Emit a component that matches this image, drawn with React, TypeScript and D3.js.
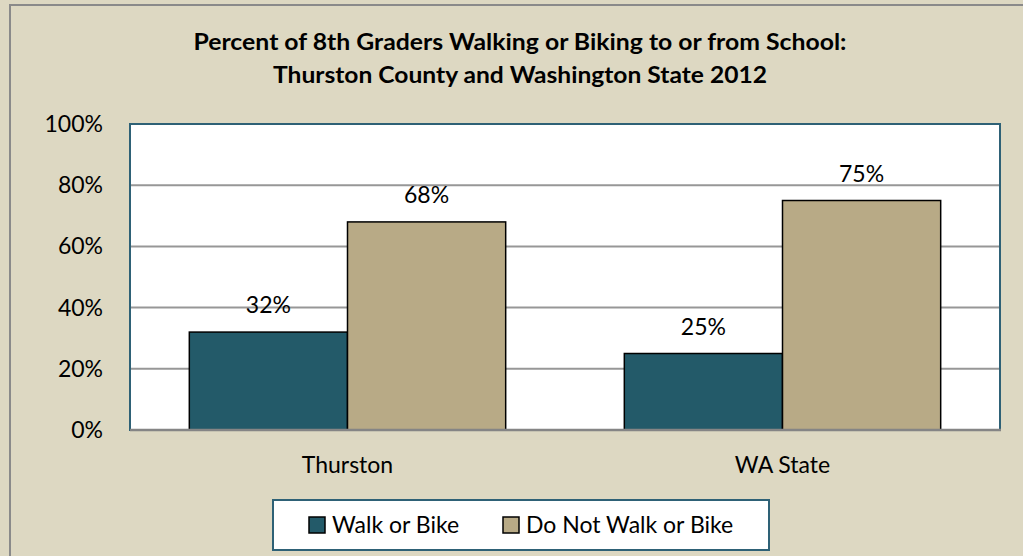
import React from "react";
import * as d3 from "d3";

const titleLines = [
  "Percent of 8th Graders Walking or Biking to or from School:",
  "Thurston County and Washington State 2012",
];
const categories = ["Thurston", "WA State"];
const seriesNames = ["Walk or Bike", "Do Not Walk or Bike"];
const walkOrBike = [32, 25];
const doNotWalkOrBike = [68, 75];
const yTicks = [0, 20, 40, 60, 80, 100];

const seriesColors = ["#235A69", "#B8AA86"];
const seriesValues = [walkOrBike, doNotWalkOrBike];

const W = 1023;
const H = 556;
const plot = { left: 130, right: 1000, top: 124, bottom: 430 };
const FONT = "Lato, 'Open Sans', sans-serif";

export default function App() {
  const x0 = d3
    .scaleBand<string>()
    .domain(categories)
    .range([plot.left, plot.right])
    .paddingInner(0.75 / 2.75)
    .paddingOuter(0.75 / 5.5);
  const x1 = d3
    .scaleBand<string>()
    .domain(seriesNames)
    .range([0, x0.bandwidth()])
    .padding(0);
  const y = d3.scaleLinear().domain([0, 100]).range([plot.bottom, plot.top]);
  const fmt = (v: number) => `${v}%`;
  const cx = (plot.left + plot.right) / 2;
  const titleCenter = 520;

  return (
    <svg
      width={W}
      height={H}
      style={{ position: "fixed", left: 0, top: 0, display: "block" }}
      fontFamily={FONT}
    >
      <rect x={0} y={0} width={W} height={H} fill="#DDD8C2" />
      {/* outer chart border (extends beyond image on right/bottom) */}
      <rect x={10} y={5} width={W + 20} height={H + 20} fill="none" stroke="#8A8A8A" strokeWidth={2} />

      {/* title */}
      {titleLines.map((t, i) => (
        <text
          key={t}
          x={titleCenter}
          y={50 + i * 33}
          textAnchor="middle"
          fontWeight="bold"
          fontSize={23}
          fill="#000"
          textLength={i === 0 ? 653 : 494}
          lengthAdjust="spacingAndGlyphs"
        >
          {t}
        </text>
      ))}

      {/* plot area */}
      <rect
        x={plot.left}
        y={plot.top}
        width={plot.right - plot.left}
        height={plot.bottom - plot.top}
        fill="#FFFFFF"
        stroke="#2E6176"
        strokeWidth={2}
      />

      {/* gridlines */}
      {yTicks
        .filter((t) => t > 0 && t < 100)
        .map((t) => (
          <line
            key={t}
            x1={plot.left + 1}
            x2={plot.right - 1}
            y1={y(t)}
            y2={y(t)}
            stroke="#979797"
            strokeWidth={2}
          />
        ))}

      {/* y tick labels */}
      {yTicks.map((t) => (
        <text
          key={t}
          x={103}
          y={y(t) + 8}
          textAnchor="end"
          fontSize={23}
          fill="#000"
        >
          {fmt(t)}
        </text>
      ))}

      {/* bars */}
      {categories.map((c, ci) => (
        <g key={c}>
          {seriesNames.map((s, si) => {
            const v = seriesValues[si][ci];
            const bx = (x0(c) as number) + (x1(s) as number);
            const bw = x1.bandwidth();
            return (
              <g key={s}>
                <rect
                  x={bx}
                  y={y(v)}
                  width={bw}
                  height={y(0) - y(v)}
                  fill={seriesColors[si]}
                  stroke="#000"
                  strokeWidth={1.5}
                />
                <text
                  x={bx + bw / 2}
                  y={y(v) - 19}
                  textAnchor="middle"
                  fontSize={23}
                  fill="#000"
                >
                  {fmt(v)}
                </text>
              </g>
            );
          })}
        </g>
      ))}

      {/* bottom axis line */}
      <line
        x1={plot.left}
        x2={plot.right + 1}
        y1={plot.bottom}
        y2={plot.bottom}
        stroke="#858585"
        strokeWidth={2.5}
      />

      {/* category labels */}
      {categories.map((c) => (
        <text
          key={c}
          x={(x0(c) as number) + x0.bandwidth() / 2}
          y={473}
          textAnchor="middle"
          fontSize={23}
          fill="#000"
        >
          {c}
        </text>
      ))}

      {/* legend */}
      <rect x={273} y={500} width={496} height={50} fill="#FFFFFF" stroke="#2E6176" strokeWidth={2} />
      {seriesNames.map((s, si) => {
        const lx = si === 0 ? 309 : 503;
        return (
          <g key={s}>
            <rect x={lx} y={517} width={16} height={16} fill={seriesColors[si]} stroke="#000" strokeWidth={1.5} />
            <text x={lx + 23} y={533} fontSize={23} fill="#000">
              {s}
            </text>
          </g>
        );
      })}
    </svg>
  );
}
